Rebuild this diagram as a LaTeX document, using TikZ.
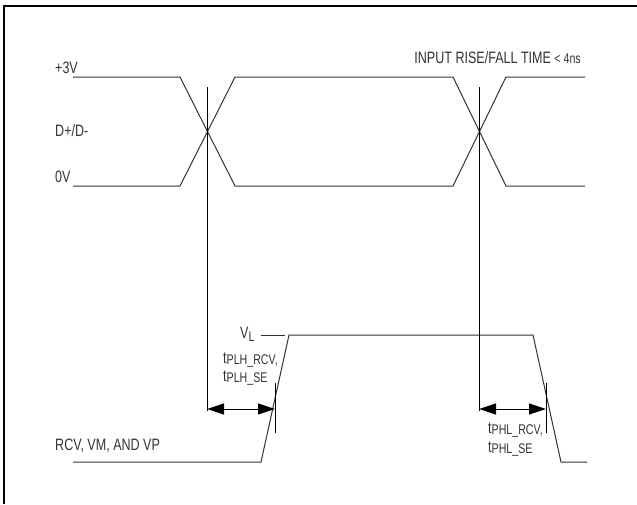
\documentclass[tikz,border=0pt]{standalone}
\usepackage{fontspec}
\setmainfont{Liberation Sans}[FakeStretch=0.76]
\usetikzlibrary{arrows.meta}
\newcommand{\tsub}[2]{#1\raisebox{-1.5pt}{\fontsize{14}{16}\selectfont #2}}
\begin{document}
\begin{tikzpicture}[x=1pt,y=-1pt,
  lbl/.style={inner sep=0pt,anchor=base west,text=black!80,font=\fontsize{16.5}{19}\selectfont},
  wave/.style={draw=black!80,line width=1pt,line join=miter},
  guide/.style={draw=black,line width=1pt},
  dim/.style={draw=black,line width=1pt,{Triangle[length=17pt,width=11pt]}-{Triangle[length=17pt,width=11pt]}},
  frame/.style={draw=black,line width=2.4pt}]
\useasboundingbox (0,0) rectangle (637,504);
% frame (top and left edges)
\draw[frame] (4,504) -- (4,6) -- (637,6);
% labels
\node[lbl] (p3v) at (55,73) {+3V};
\node[lbl] (dpm) at (55,136) {D+/D-};
\node[lbl] (zv) at (55,182) {0V};
\node[lbl,anchor=base east] (rise) at (581,63) {INPUT RISE/FALL TIME \fontsize{14}{16}\selectfont< 4ns};
\node[lbl] (rcv) at (55,450) {RCV, VM, AND VP};
\node[lbl] (vl) at (240,338) {V\raisebox{-3pt}{\fontsize{14}{16}\selectfont L}};
\node[lbl] (tplh1) at (223,363) {\tsub{t}{PLH\_RCV,}};
\node[lbl] (tplh2) at (223,381) {\tsub{t}{PLH\_SE}};
\node[lbl] (tphl1) at (488,433) {\tsub{t}{PHL\_RCV,}};
\node[lbl] (tphl2) at (488,452) {\tsub{t}{PHL\_SE}};
% D+/D- waveforms
\coordinate (hiS) at (73,77);
\coordinate (loS) at (73,186);
\path[wave] (hiS) -- (180,77) -- (235,186) -- (453,186) -- (506,77) -- (585,77);
\path[wave] (loS) -- (180,186) -- (235,77) -- (453,77) -- (506,186) -- (585,186);
% receiver output
\coordinate (rlo) at (73,462);
\path[wave] (rlo) -- (261,462) -- (289,335) -- (533,335) -- (561,462) -- (587,462);
\path[wave] (261,335) -- (285,335);
% guides
\coordinate (g1t) at (207,87);
\coordinate (g1b) at (207,411);
\coordinate (g2t) at (479,87);
\coordinate (g2b) at (479,411);
\path[guide] (g1t) -- (g1b);
\path[guide] (g2t) -- (g2b);
\coordinate (k1t) at (275,383);
\coordinate (k1b) at (275,433);
\coordinate (k2t) at (546,383);
\coordinate (k2b) at (546,433);
\path[guide] (k1t) -- (k1b);
\path[guide] (k2t) -- (k2b);
% dimension arrows
\coordinate (a1l) at (207,409);
\coordinate (a1r) at (275,409);
\coordinate (a2l) at (479,409);
\coordinate (a2r) at (546,409);
\path[dim] (a1l) -- (a1r);
\path[dim] (a2l) -- (a2r);
\end{tikzpicture}
\end{document}
